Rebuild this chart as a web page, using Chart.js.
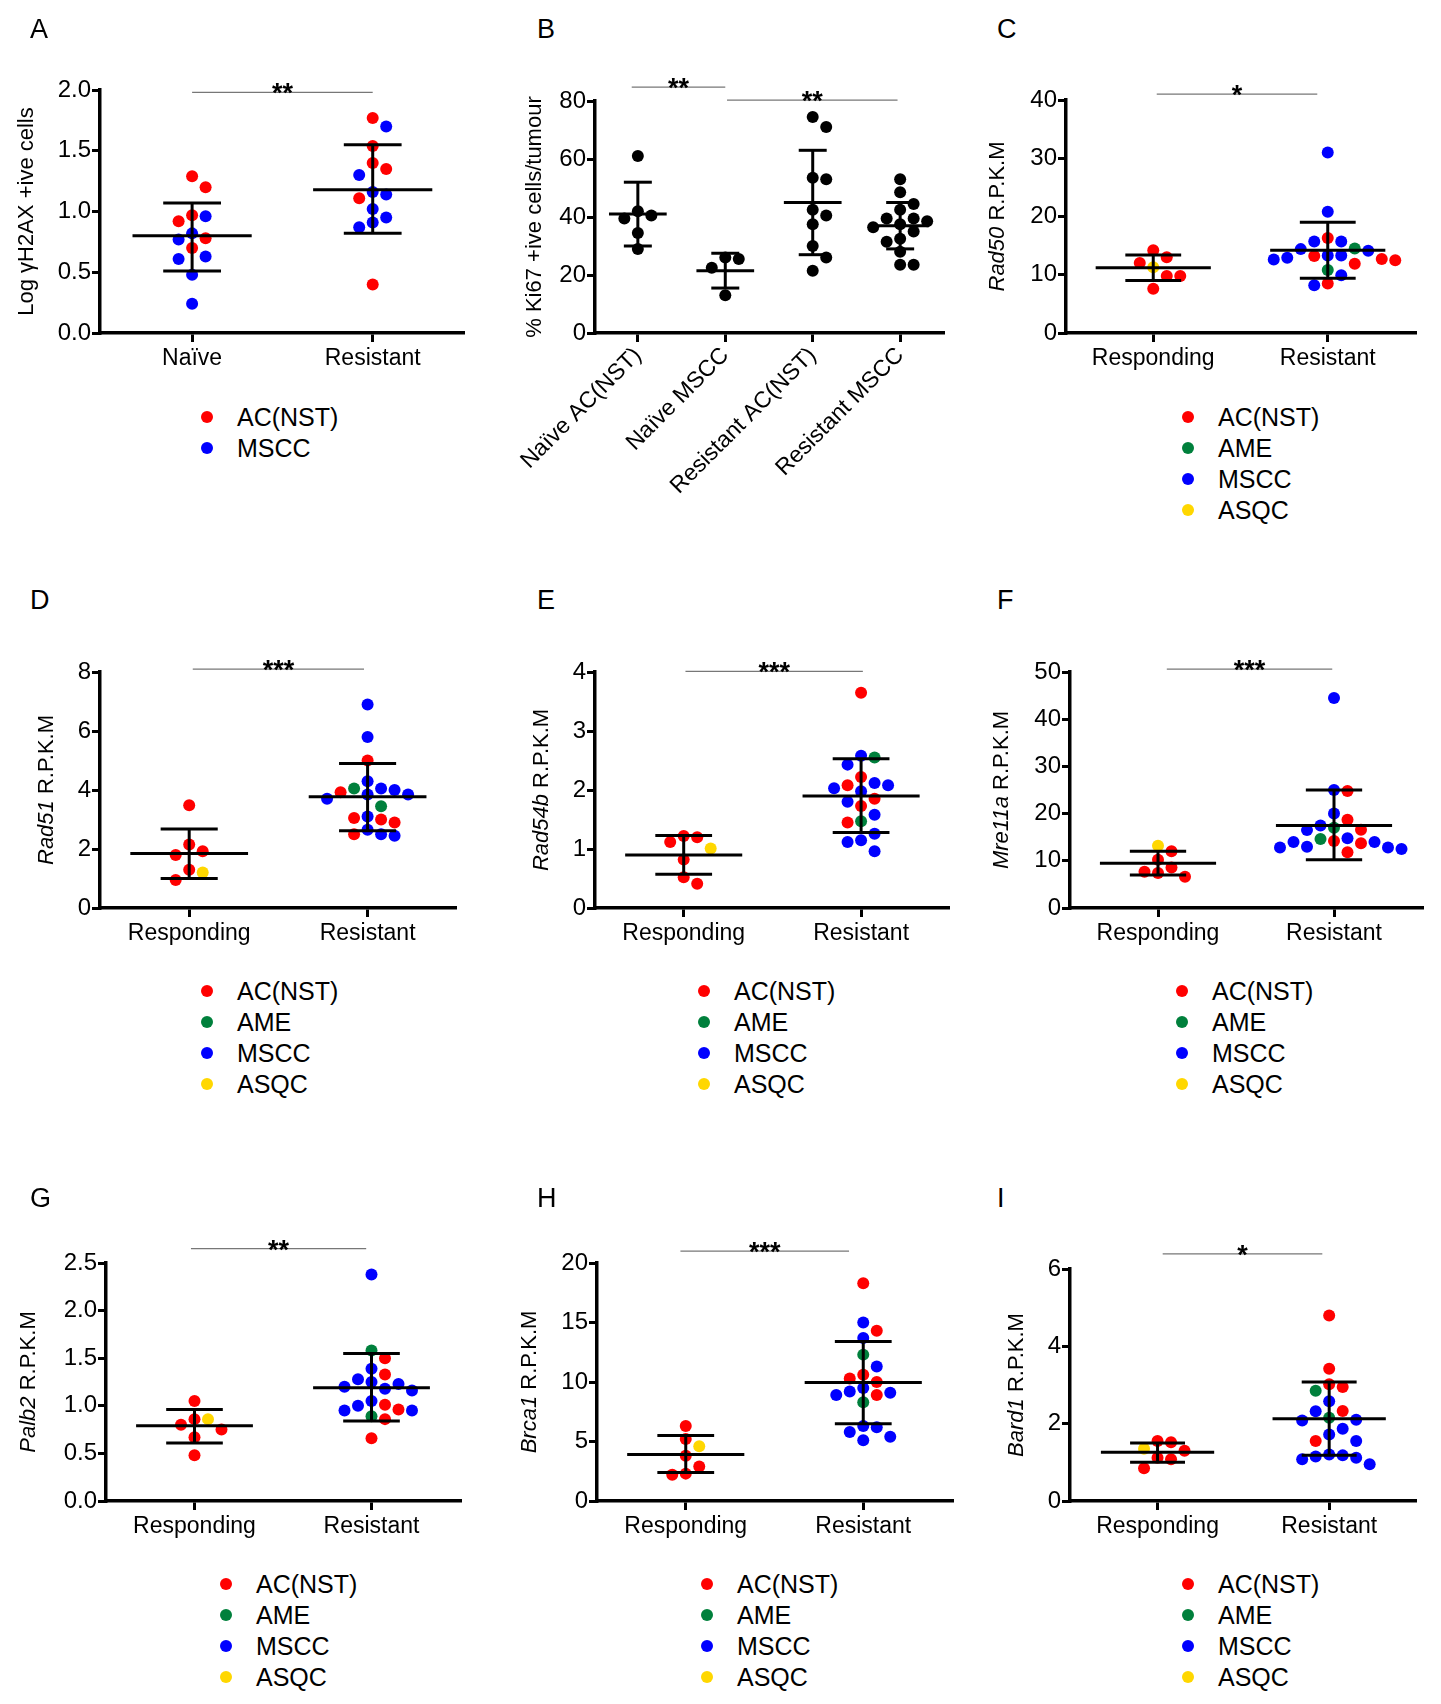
<!DOCTYPE html>
<html><head><meta charset="utf-8">
<script src="https://cdn.jsdelivr.net/npm/chart.js@4"></script>
<style>
body{margin:0;background:#fff;width:1441px;height:1704px;position:relative;font-family:"Liberation Sans",Arial,sans-serif;overflow:hidden}
canvas{position:absolute}
.lt{position:absolute;font-size:27px;color:#000}
.lg{position:absolute;font-size:25px;line-height:31px;color:#000}
.lg span{display:inline-block;width:12px;height:12px;border-radius:50%;margin-right:24px;vertical-align:middle;position:relative;top:-2px}
</style></head><body>
<script>
const RED='#ff0000',BLUE='#0000ff',GREEN='#00803c',YEL='#ffd700',BLK='#000000';
const COLORS={R:RED,B:BLUE,G:GREEN,Y:YEL,K:BLK};
// ---- data ----
const A_cats=['Naïve','Resistant'];
const A_naive_vals=[1.29,1.20,0.97,0.92,0.78,0.70,0.96,0.82,0.77,0.63,0.61,0.48,0.24];
const A_naive_cols='RRRRRRBBBBBBB';
const A_res_vals=[1.77,1.54,1.40,1.35,1.11,0.40,1.70,1.30,1.16,1.14,1.02,0.95,0.91,0.87];
const A_res_cols='RRRRRRBBBBBBBB';
const A_stats=[[0.80,0.51,1.07],[1.18,0.82,1.55]];

const B_cats=['Naïve AC(NST)','Naïve MSCC','Resistant AC(NST)','Resistant MSCC'];
const B_g1=[61,42,40.5,39.5,34.5,29];
const B_g2=[26,25.5,22.5,13];
const B_g3=[74.5,71,53.5,53,42.5,40.5,37.5,30,26,21.5];
const B_g4=[53,48.5,44.5,42.5,39.5,39.5,38.5,37.5,36.5,35,32.5,31.5,28,23.5,23.5];
const B_stats=[[41,30,52],[21.5,15.5,27.5],[45,27,63],[37,29,45]];

const RR_cats=['Responding','Resistant'];
const C_resp_vals=[14.2,13,12,9.8,9.8,7.6,11.3];
const C_resp_cols='RRRRRRY';
const C_res_vals=[31,20.8,15.7,15.7,14.4,14.1,13.3,13.3,12.9,12.6,9.9,8.2,16.3,13.2,12.7,12.5,11.9,8.5,14.5,10.8];
const C_res_cols='BBBBBBBBBBBBRRRRRRGG';
const C_stats=[[11.2,9,13.4],[14.2,9.4,19]];

const D_resp_vals=[3.48,2.15,1.92,1.8,1.3,0.95,1.2];
const D_resp_cols='RRRRRRY';
const D_res_vals=[6.9,5.8,4.3,4.05,4.0,3.85,3.85,3.7,3.1,2.65,2.5,2.45,5.0,3.92,3.05,3.0,2.9,2.5,4.05,3.45];
const D_res_cols='BBBBBBBBBBBBRRRRRRGG';
const D_stats=[[1.85,1.0,2.68],[3.77,2.62,4.9]];

const E_resp_vals=[1.22,1.2,1.12,0.82,0.52,0.41,1.01];
const E_resp_cols='RRRRRRY';
const E_res_vals=[3.65,2.22,2.08,1.85,1.73,1.45,2.58,2.43,2.12,2.08,2.03,1.98,1.8,1.58,1.26,1.15,1.12,0.96,2.55,1.47];
const E_res_cols='RRRRRRBBBBBBBBBBBBGG';
const E_stats=[[0.9,0.57,1.23],[1.9,1.28,2.53]];

const F_resp_vals=[12,10.2,8.6,7.7,7.4,6.6,13.2];
const F_resp_cols='RRRRRRY';
const F_res_vals=[44.5,25,20,17.5,16.5,14.8,14,14,13,12.8,12.5,12.8,24.8,18.7,16.6,14.2,13.7,11.8,17,14.6];
const F_res_cols='BBBBBBBBBBBBRRRRRRGG';
const F_stats=[[9.5,7,12],[17.5,10.2,25]];

const G_resp_vals=[1.05,0.86,0.8,0.75,0.67,0.48,0.86];
const G_resp_cols='RRRRRRY';
const G_res_vals=[2.38,1.39,1.28,1.25,1.23,1.2,1.18,1.16,1.05,1.0,0.95,0.95,1.5,1.33,1.01,0.96,0.86,0.66,1.58,0.89];
const G_res_cols='BBBBBBBBBBBBRRRRRRGG';
const G_stats=[[0.79,0.61,0.96],[1.19,0.84,1.55]];

const H_resp_vals=[6.3,5.2,3.8,2.9,2.3,2.2,4.6];
const H_resp_cols='RRRRRRY';
const H_res_vals=[18.3,14.3,10.6,10.3,10.0,8.9,15,13.7,11.3,9.5,9.2,9.1,8.9,6.3,6.2,5.8,5.4,5.1,12.3,8.3];
const H_res_cols='RRRRRRBBBBBBBBBBBBGG';
const H_stats=[[3.9,2.4,5.5],[9.95,6.5,13.4]];

const I_resp_vals=[1.55,1.52,1.3,1.12,1.08,0.85,1.35];
const I_resp_cols='RRRRRRY';
const I_res_vals=[4.8,3.42,3.02,2.95,2.33,1.55,2.58,2.32,2.1,2.08,1.87,1.72,1.55,1.2,1.18,1.15,1.12,1.08,0.95,2.85,2.15];
const I_res_cols='RRRRRRBBBBBBBBBBBBBGG';
const I_stats=[[1.26,1.0,1.5],[2.13,1.18,3.08]];

// ---- beeswarm placement (layout only) ----
function swarm(vals,cols,cx,unitPx,valPx){
  const idx=vals.map((v,i)=>i).sort((a,b)=>vals[b]-vals[a]);
  const placed=[];const out=[];const d=13.5;
  idx.forEach(i=>{
    const v=vals[i];
    const cands=[0];for(let k=1;k<14;k++){cands.push(k*d,-k*d);}
    let off=0;
    for(const c of cands){ if(placed.every(p=>Math.hypot(p.x-c,(p.v-v)*valPx)>=d-0.5)){off=c;break;} }
    placed.push({x:off,v});
    out.push({x:cx+off/unitPx,y:v,c:COLORS[cols[i]||'K']});
  });
  return out;
}

const decoPlugin={id:'deco',afterDraw(ch){
  const o=ch.options.plugins.deco;const ctx=ch.ctx;const xs=ch.scales.x,ys=ch.scales.y;
  ctx.save();
  ctx.strokeStyle='#000';ctx.lineWidth=3;
  const seg=(x1,y1,x2,y2)=>{ctx.beginPath();ctx.moveTo(xs.getPixelForValue(x1),ys.getPixelForValue(y1));ctx.lineTo(xs.getPixelForValue(x2),ys.getPixelForValue(y2));ctx.stroke();};
  o.stats.forEach((s,i)=>{const cx=i+1;
    seg(cx-0.33,s[0],cx+0.33,s[0]);seg(cx-0.16,s[1],cx+0.16,s[1]);seg(cx-0.16,s[2],cx+0.16,s[2]);seg(cx,s[1],cx,s[2]);
  });
  ctx.strokeStyle='#777';ctx.lineWidth=1.3;ctx.fillStyle='#000';ctx.font='bold 27px "Liberation Sans"';ctx.textAlign='center';ctx.textBaseline='alphabetic';
  o.brackets.forEach(b=>{const y=ys.getPixelForValue(b[2]);const x1=xs.getPixelForValue(b[0]),x2=xs.getPixelForValue(b[1]);
    ctx.beginPath();ctx.moveTo(x1,y);ctx.lineTo(x2,y);ctx.stroke();ctx.fillText(b[3],(x1+x2)/2,y+10);});
  ctx.translate(ch.chartArea.left-o.titleOff,(ch.chartArea.top+ch.chartArea.bottom)/2);ctx.rotate(-Math.PI/2);
  ctx.textBaseline='middle';ctx.textAlign='left';
  const f1='italic 22px "Liberation Sans"',f2='22px "Liberation Sans"';
  ctx.font=f1;const w1=ctx.measureText(o.titleI).width;ctx.font=f2;const w2=ctx.measureText(o.titleN).width;
  let x=-(w1+w2)/2;ctx.font=f1;ctx.fillText(o.titleI,x,0);ctx.font=f2;ctx.fillText(o.titleN,x+w1,0);
  ctx.restore();
}};
Chart.register(decoPlugin);

function panel(p){
  const cv=document.createElement('canvas');
  const padT=50,yW=100,xH=p.xH||60,padR=10;
  const W=p.r-p.l+yW+padR,H=p.b-p.t+padT+xH;
  cv.style.left=(p.l-yW)+'px';cv.style.top=(p.t-padT)+'px';cv.style.width=W+'px';cv.style.height=H+'px';cv.width=W;cv.height=H;
  document.body.appendChild(cv);
  const unitPx=(p.r-p.l)/(p.xmax-p.xmin),valPx=(p.b-p.t)/p.ymax;
  let pts=[];p.groups.forEach((g,i)=>{pts=pts.concat(swarm(g[0],g[1],i+1,unitPx,valPx));});
  new Chart(cv,{type:'scatter',data:{datasets:[{data:pts.map(q=>({x:q.x,y:q.y})),backgroundColor:pts.map(q=>q.c),borderWidth:0,pointRadius:6}]},
    options:{responsive:false,animation:false,devicePixelRatio:1,layout:{padding:{top:padT,right:padR,left:0,bottom:0}},
      plugins:{legend:{display:false},tooltip:{enabled:false},deco:{stats:p.stats,brackets:p.brackets,titleI:p.ti||'',titleN:p.tn,titleOff:p.toff}},
      scales:{
        x:{type:'linear',min:p.xmin,max:p.xmax,afterFit(s){s.height=xH;},afterBuildTicks(s){s.ticks=p.cats.map((c,i)=>({value:i+1}));},
          ticks:{callback:(v)=>p.cats[v-1],color:'#000',font:{size:23,family:'Liberation Sans'},maxRotation:p.rot||0,minRotation:p.rot||0,padding:p.rot?0:3,autoSkip:false},
          grid:{drawOnChartArea:false,drawTicks:true,tickLength:9,color:'#000',lineWidth:3},border:{color:'#000',width:3.5}},
        y:{min:0,max:p.ymax,afterFit(s){s.width=yW;},ticks:{stepSize:p.step,color:'#000',font:{size:24,family:'Liberation Sans'},padding:1,callback:v=>p.dec?v.toFixed(1):v},
          grid:{drawOnChartArea:false,drawTicks:true,tickLength:8,color:'#000',lineWidth:3},border:{color:'#000',width:3.5}}
      }}});
}
const G2=(a,b,c,d)=>[[a,b],[c,d]];
panel({l:100,r:463,t:90,b:333,xmin:0.49,xmax:2.5,ymax:2.0,step:0.5,dec:true,cats:A_cats,groups:G2(A_naive_vals,A_naive_cols,A_res_vals,A_res_cols),stats:A_stats,brackets:[[1,2,1.98,'**']],tn:'Log γH2AX +ive cells',toff:73});
panel({l:595,r:943,t:101,b:333,xmin:0.51,xmax:4.49,ymax:80,step:20,cats:B_cats,rot:45,xH:180,groups:[[B_g1,''],[B_g2,''],[B_g3,''],[B_g4,'']],stats:B_stats,brackets:[[0.93,2,84.8,'**'],[2.02,3.97,80.3,'**']],tn:'% Ki67 +ive cells/tumour',toff:60});
panel({l:1066,r:1415,t:100,b:333,xmin:0.5,xmax:2.5,ymax:40,step:10,cats:RR_cats,groups:G2(C_resp_vals,C_resp_cols,C_res_vals,C_res_cols),stats:C_stats,brackets:[[1.02,1.94,41,'*']],ti:'Rad50',tn:' R.P.K.M',toff:68});
panel({l:100,r:455,t:672,b:908,xmin:0.5,xmax:2.49,ymax:8,step:2,cats:RR_cats,groups:G2(D_resp_vals,D_resp_cols,D_res_vals,D_res_cols),stats:D_stats,brackets:[[1.02,1.98,8.1,'***']],ti:'Rad51',tn:' R.P.K.M',toff:53});
panel({l:595,r:948,t:672,b:908,xmin:0.5,xmax:2.49,ymax:4,step:1,cats:RR_cats,groups:G2(E_resp_vals,E_resp_cols,E_res_vals,E_res_cols),stats:E_stats,brackets:[[1.01,2.01,4.01,'***']],ti:'Rad54b',tn:' R.P.K.M',toff:53});
panel({l:1070,r:1422,t:672,b:908,xmin:0.5,xmax:2.5,ymax:50,step:10,cats:RR_cats,groups:G2(F_resp_vals,F_resp_cols,F_res_vals,F_res_cols),stats:F_stats,brackets:[[1.05,1.99,50.6,'***']],ti:'Mre11a',tn:' R.P.K.M',toff:68});
panel({l:106,r:460,t:1263,b:1501,xmin:0.5,xmax:2.5,ymax:2.5,step:0.5,dec:true,cats:RR_cats,groups:G2(G_resp_vals,G_resp_cols,G_res_vals,G_res_cols),stats:G_stats,brackets:[[0.98,1.97,2.65,'**']],ti:'Palb2',tn:' R.P.K.M',toff:77});
panel({l:597,r:952,t:1263,b:1501,xmin:0.5,xmax:2.5,ymax:20,step:5,cats:RR_cats,groups:G2(H_resp_vals,H_resp_cols,H_res_vals,H_res_cols),stats:H_stats,brackets:[[0.97,1.92,21,'***']],ti:'Brca1',tn:' R.P.K.M',toff:67});
panel({l:1070,r:1415,t:1269,b:1501,xmin:0.49,xmax:2.5,ymax:6,step:2,cats:RR_cats,groups:G2(I_resp_vals,I_resp_cols,I_res_vals,I_res_cols),stats:I_stats,brackets:[[1.03,1.96,6.39,'*']],ti:'Bard1',tn:' R.P.K.M',toff:53});

[['A',30,30],['B',537,30],['C',997,30],['D',30,601],['E',537,601],['F',997,601],['G',30,1199],['H',537,1199],['I',997,1199]].forEach(([t,x,y])=>{
  const d=document.createElement('div');d.className='lt';d.textContent=t;d.style.left=x+'px';d.style.top=(y-16)+'px';document.body.appendChild(d);});
const L2=[['AC(NST)',RED],['MSCC',BLUE]];
const L4=[['AC(NST)',RED],['AME',GREEN],['MSCC',BLUE],['ASQC',YEL]];
[[L2,207,418],[L4,1188,418],[L4,207,992],[L4,704,992],[L4,1182,992],[L4,226,1585],[L4,707,1585],[L4,1188,1585]].forEach(([items,x,y])=>{
  const d=document.createElement('div');d.className='lg';d.style.left=(x-6)+'px';d.style.top=(y-16)+'px';
  d.innerHTML=items.map(([t,c])=>`<div><span style="background:${c}"></span>${t}</div>`).join('');document.body.appendChild(d);});
</script>
</body></html>
